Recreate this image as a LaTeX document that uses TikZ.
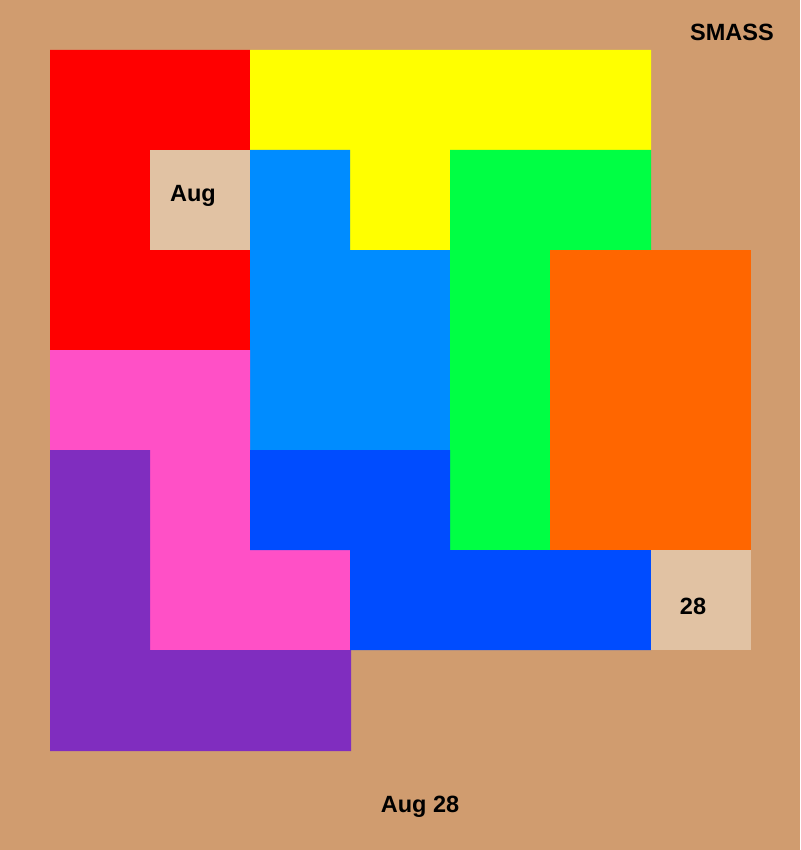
\documentclass[tikz,border=0pt]{standalone}
\usepackage{fontspec}
\setmainfont{Liberation Sans}
\definecolor{bg}{RGB}{208,156,111}
\definecolor{cred}{RGB}{255,0,0}
\definecolor{cyel}{RGB}{255,255,0}
\definecolor{clb}{RGB}{0,140,255}
\definecolor{cgrn}{RGB}{0,255,68}
\definecolor{corg}{RGB}{255,102,0}
\definecolor{cpink}{RGB}{255,80,198}
\definecolor{cpur}{RGB}{128,45,191}
\definecolor{cblue}{RGB}{0,76,255}
\definecolor{ctan}{RGB}{225,194,163}
\tikzset{lbl/.style={font=\fontsize{23.5}{28}\selectfont\bfseries, text=black, inner sep=0pt}}
\begin{document}
\begin{tikzpicture}[x=1pt,y=-1pt]
\fill[bg] (0,0) rectangle (800,850);
\useasboundingbox (0,0) rectangle (800,850);
% red
\fill[cred] (50,50) -- (250,50) -- (250,150) -- (150,150) -- (150,250) -- (250,250) -- (250,350) -- (50,350) -- cycle;
% yellow
\fill[cyel] (250,50) -- (651,50) -- (651,150) -- (450,150) -- (450,250) -- (350,250) -- (350,150) -- (250,150) -- cycle;
% light blue
\fill[clb] (250,150) -- (350,150) -- (350,250) -- (450,250) -- (450,450) -- (250,450) -- cycle;
% green
\fill[cgrn] (450,150) -- (651,150) -- (651,250) -- (550,250) -- (550,550) -- (450,550) -- cycle;
% orange
\fill[corg] (550,250) rectangle (751,550);
% pink
\fill[cpink] (50,350) -- (250,350) -- (250,550) -- (350,550) -- (350,650) -- (150,650) -- (150,450) -- (50,450) -- cycle;
% purple
\fill[cpur] (50,450) -- (150,450) -- (150,650) -- (351,650) -- (351,751) -- (50,751) -- cycle;
% blue
\fill[cblue] (250,450) -- (450,450) -- (450,550) -- (651,550) -- (651,650) -- (350,650) -- (350,550) -- (250,550) -- cycle;
% tan cells
\fill[ctan] (150,150) rectangle (250,250);
\fill[ctan] (651,550) rectangle (751,650);
\node[lbl] (aug) at (193,196) {Aug};
\node[lbl] (d28) at (693,606) {28};
\node[lbl] (title) at (732,32) {SMASS};
\node[lbl] (date) at (420,807) {Aug 28};
\end{tikzpicture}
\end{document}
